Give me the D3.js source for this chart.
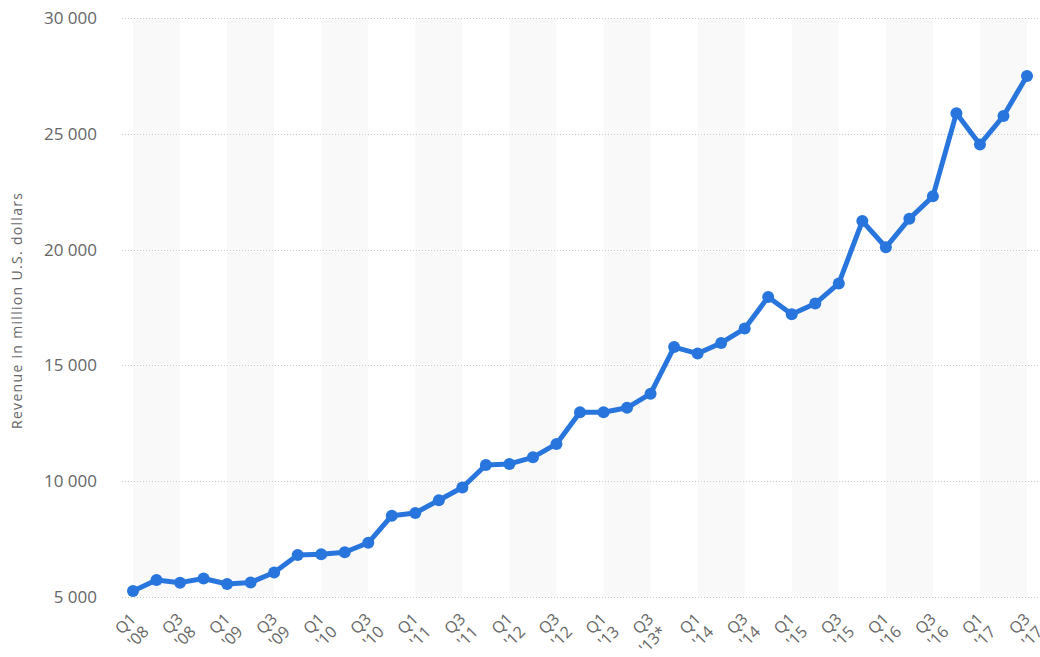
<!DOCTYPE html>
<html>
<head>
    <meta charset="utf-8">
    <script src="https://cdn.jsdelivr.net/npm/d3@7"></script>
    <style>
        body {
            margin: 0;
            background: #fff;
        }

        svg {
            display: block;
            font-family: "Open Sans", sans-serif;
        }
    </style>
</head>
<body>
    <svg id="chart" width="1040" height="657"></svg>
    <script>

        // quarters Q1 '08 .. Q3 '17
        const quarters = ["Q1", "Q2", "Q3", "Q4"];
        const years = ["08", "09", "10", "11", "12", "13", "14", "15", "16", "17"];

        // revenue in million U.S. dollars
        const revenue = [
            5260, 5730, 5620, 5800,
            5560, 5630, 6060, 6810,
            6850, 6930, 7340, 8510,
            8630, 9180, 9730, 10700,
            10745, 11030, 11610, 12980,
            12980, 13170, 13780, 15790,
            15510, 15970, 16590, 17950,
            17210, 17670, 18540, 21230,
            20100, 21330, 22300, 25890,
            24540, 25770, 27500
        ];

        const yTicks = [5000, 10000, 15000, 20000, 25000, 30000];

        // build the category keys
        const categories = revenue.map((v, i) => ({
            key: "c" + i,
            q: quarters[i % 4],
            yr: years[Math.floor(i / 4)],
            star: i === 22 ? "*" : "",
            value: v
        }));

        const svg = d3.select("#chart");

        const plotLeft = 122, plotRight = 1040, plotTop = 18, plotBottom = 597;

        const x = d3.scalePoint()
            .domain(categories.map(d => d.key))
            .range([133, 1027]);

        const y = d3.scaleLinear()
            .domain([5000, 30000])
            .range([plotBottom, plotTop]);

        // alternating year bands (Q1 to Q3)
        const bandYears = d3.range(years.length);
        svg.append("g")
            .selectAll("rect")
            .data(bandYears)
            .enter()
            .append("rect")
            .attr("x", i => x("c" + i * 4))
            .attr("width", i => x("c" + Math.min(i * 4 + 2, revenue.length - 1)) - x("c" + i * 4))
            .attr("y", plotTop)
            .attr("height", plotBottom - plotTop)
            .attr("fill", "#f9f9f9");

        // gridlines
        svg.append("g")
            .selectAll("line")
            .data(yTicks)
            .enter()
            .append("line")
            .attr("x1", plotLeft)
            .attr("x2", plotRight)
            .attr("y1", d => Math.round(y(d)) + 0.5)
            .attr("y2", d => Math.round(y(d)) + 0.5)
            .attr("stroke", "#c8c8c8")
            .attr("stroke-width", 1)
            .attr("stroke-dasharray", "1,2");

        // y tick labels
        const fmt = d3.formatLocale({ thousands: " ", grouping: [3], decimal: ".", currency: ["", ""] }).format(",");
        svg.append("g")
            .selectAll("text")
            .data(yTicks)
            .enter()
            .append("text")
            .attr("x", 97)
            .attr("y", d => y(d))
            .attr("dy", "0.35em")
            .attr("text-anchor", "end")
            .attr("font-size", 17)
            .attr("fill", "#666")
            .text(d => fmt(d));

        // y axis title
        svg.append("text")
            .attr("transform", "translate(22,311) rotate(-90)")
            .attr("text-anchor", "middle")
            .attr("font-size", 14)
            .attr("textLength", 236)
            .attr("lengthAdjust", "spacing")
            .attr("fill", "#666")
            .text("Revenue in million U.S. dollars");

        // x labels, every other quarter
        const xl = svg.append("g")
            .selectAll("g")
            .data(categories.filter((d, i) => i % 2 === 0))
            .enter()
            .append("g")
            .attr("transform", d => `translate(${x(d.key) + 4},${plotBottom + 23}) rotate(-45)`);

        const lbl = xl.append("text")
            .attr("text-anchor", "end")
            .attr("font-size", 16)
            .attr("fill", "#666");
        lbl.append("tspan").attr("x", 0).attr("dy", 0).text(d => d.q);
        lbl.append("tspan").attr("x", 0).attr("dy", 18).text(d => "'" + d.yr + d.star);

        // line
        const line = d3.line()
            .x(d => x(d.key))
            .y(d => y(d.value));

        svg.append("path")
            .datum(categories)
            .attr("d", line)
            .attr("fill", "none")
            .attr("stroke", "#2876dd")
            .attr("stroke-width", 5)
            .attr("stroke-linejoin", "round");

        svg.append("g")
            .selectAll("circle")
            .data(categories)
            .enter()
            .append("circle")
            .attr("cx", d => x(d.key))
            .attr("cy", d => y(d.value))
            .attr("r", 6)
            .attr("fill", "#2876dd");

    </script>
</body>
</html>
